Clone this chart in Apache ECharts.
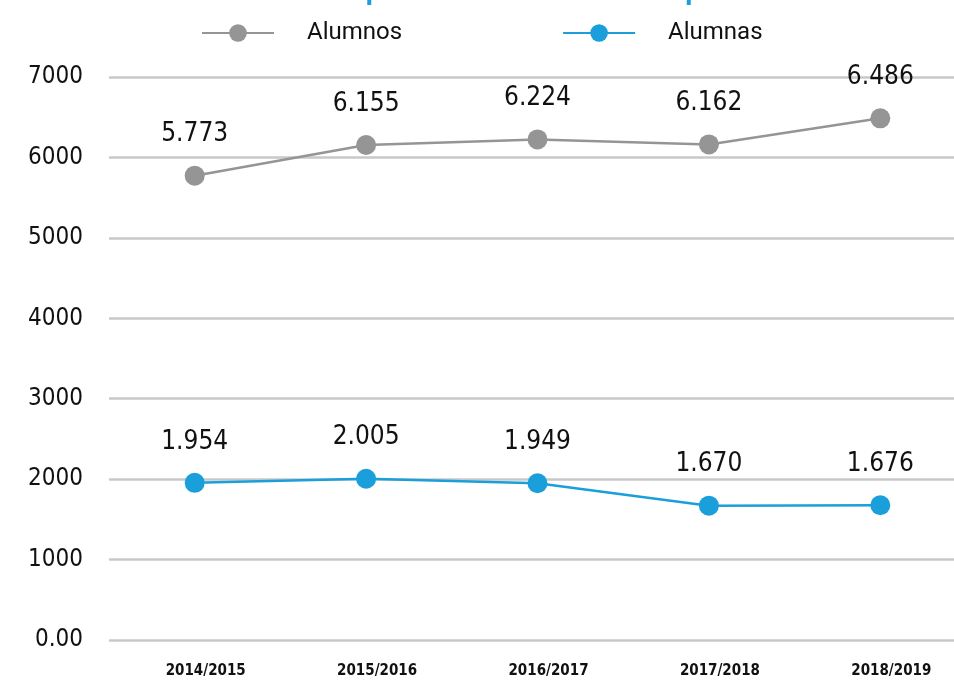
<!DOCTYPE html>
<html>
<head>
<meta charset="utf-8">
<script src="https://cdn.jsdelivr.net/npm/echarts@6/dist/echarts.min.js"></script>
<style>
html,body{margin:0;padding:0;background:#fff;}
#main{width:954px;height:680px;}
</style>
</head>
<body>
<div id="main"></div>
<script>
// datos
var cursos = ['2014/2015', '2015/2016', '2016/2017', '2017/2018', '2018/2019'];
var alumnos = [5773, 6155, 6224, 6162, 6486];
var alumnas = [1954, 2005, 1949, 1670, 1676];
var nombres = ['Alumnos', 'Alumnas'];
var colores = ['#959595', '#1a9fdb'];

var fuenteMano = '"Liberation Sans Narrow","DejaVu Sans Condensed",sans-serif';

//numero con punto de miles
function miles(v){
  return String(v).replace(/\B(?=(\d{3})+(?!\d))/g, '.');
}

var chart = echarts.init(document.getElementById('main'));
var option = {
  color: colores,
  title: {
    text: 'Matriculados por sexo en Educación Especial',
    left: 'center',
    top: -27,
    textStyle: { color: '#1a9fdb', fontSize: 28, fontWeight: 'bold', fontFamily: 'Roboto' }
  },
  legend: {
    data: nombres,
    left: 196,
    top: 16,
    itemWidth: 72,
    itemHeight: 22,
    itemGap: 160,
    textStyle: { fontSize: 24, color: '#111', fontFamily: 'Roboto', padding: [0, 0, 0, 28] }
  },
  grid: { left: 109, top: 77, width: 857, bottom: 40, outerBoundsMode: 'none', containLabel: false },
  xAxis: {
    type: 'category',
    data: cursos,
    boundaryGap: true,
    axisLine: { show: false },
    axisTick: { show: false },
    axisLabel: {
      margin: 24, fontSize: 15, color: '#111', fontFamily: fuenteMano, fontWeight: 'bold',
      padding: [0, 0, 0, 22]
    }
  },
  yAxis: {
    type: 'value',
    min: 0,
    max: 7000,
    interval: 1000,
    axisLine: { show: false },
    axisTick: { show: false },
    splitLine: { lineStyle: { color: '#c8c8c8', width: 2.5 } },
    axisLabel: {
      margin: 26,
      fontSize: 24,
      color: '#111',
      fontFamily: fuenteMano,
      formatter: function(v){ return v === 0 ? '0.00' : String(v); }
    }
  },
  series: [
    {
      name: nombres[0],
      type: 'line',
      data: alumnos,
      symbol: 'circle',
      symbolSize: 20,
      lineStyle: { width: 2.5 },
      label: {
        show: true, position: 'top', distance: 18,
        fontSize: 26, color: '#111', fontFamily: fuenteMano,
        formatter: function(p){ return miles(p.value); }
      }
    },
    {
      name: nombres[1],
      type: 'line',
      data: alumnas,
      symbol: 'circle',
      symbolSize: 20,
      lineStyle: { width: 2.5 },
      label: {
        show: true, position: 'top', distance: 18,
        fontSize: 26, color: '#111', fontFamily: fuenteMano,
        formatter: function(p){ return miles(p.value); }
      }
    }
  ]
};
chart.setOption(option);
</script>
</body>
</html>
